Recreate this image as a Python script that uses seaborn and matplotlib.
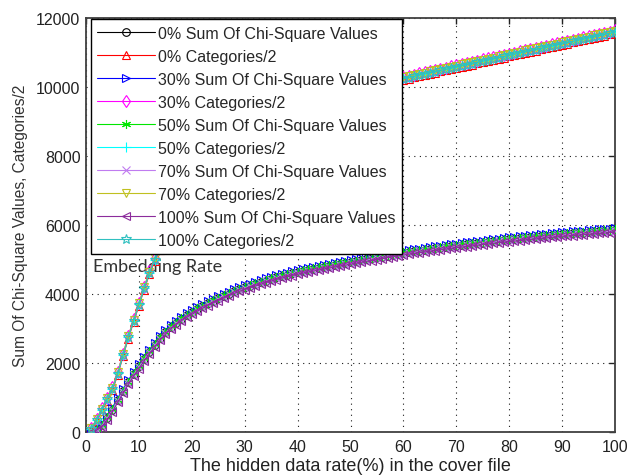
import matplotlib
matplotlib.use("Agg")
import matplotlib.pyplot as plt
import seaborn as sns

# ---------------- data ----------------
hidden_rate = list(range(1, 101))

sum_0 = [20, 80, 200, 420, 650, 920, 1180, 1440, 1680, 1900,
         2120, 2330, 2530, 2720, 2890, 3040, 3170, 3280, 3380, 3470,
         3560, 3645, 3725, 3800, 3870, 3940, 4010, 4075, 4135, 4190,
         4240, 4290, 4340, 4390, 4435, 4480, 4520, 4560, 4595, 4630,
         4662, 4694, 4725, 4755, 4785, 4815, 4842, 4869, 4895, 4920,
         4948, 4976, 5004, 5031, 5058, 5085, 5112, 5138, 5164, 5190,
         5212, 5234, 5256, 5277, 5298, 5319, 5340, 5360, 5380, 5400,
         5418, 5436, 5454, 5472, 5490, 5508, 5526, 5544, 5562, 5580,
         5595, 5610, 5625, 5640, 5655, 5670, 5685, 5700, 5715, 5730,
         5742, 5754, 5766, 5778, 5790, 5802, 5814, 5826, 5838, 5850]

sum_30 = [30, 100, 240, 470, 710, 980, 1240, 1500, 1740, 1960,
          2180, 2390, 2590, 2780, 2950, 3100, 3230, 3340, 3440, 3530,
          3620, 3705, 3785, 3860, 3930, 4000, 4070, 4135, 4195, 4250,
          4300, 4350, 4400, 4450, 4495, 4540, 4580, 4620, 4655, 4690,
          4722, 4754, 4785, 4815, 4845, 4875, 4902, 4929, 4955, 4980,
          5008, 5036, 5064, 5091, 5118, 5145, 5172, 5198, 5224, 5250,
          5272, 5294, 5316, 5337, 5358, 5379, 5400, 5420, 5440, 5460,
          5478, 5496, 5514, 5532, 5550, 5568, 5586, 5604, 5622, 5640,
          5655, 5670, 5685, 5700, 5715, 5730, 5745, 5760, 5775, 5790,
          5802, 5814, 5826, 5838, 5850, 5862, 5874, 5886, 5898, 5910]

sum_50 = [20, 85, 210, 435, 670, 940, 1200, 1460, 1700, 1920,
          2140, 2350, 2550, 2740, 2910, 3060, 3190, 3300, 3400, 3490,
          3580, 3665, 3745, 3820, 3890, 3960, 4030, 4095, 4155, 4210,
          4260, 4310, 4360, 4410, 4455, 4500, 4540, 4580, 4615, 4650,
          4682, 4714, 4745, 4775, 4805, 4835, 4862, 4889, 4915, 4940,
          4968, 4996, 5024, 5051, 5078, 5105, 5132, 5158, 5184, 5210,
          5232, 5254, 5276, 5297, 5318, 5339, 5360, 5380, 5400, 5420,
          5438, 5456, 5474, 5492, 5510, 5528, 5546, 5564, 5582, 5600,
          5615, 5630, 5645, 5660, 5675, 5690, 5705, 5720, 5735, 5750,
          5762, 5774, 5786, 5798, 5810, 5822, 5834, 5846, 5858, 5870]

sum_70 = [15, 70, 180, 400, 630, 900, 1160, 1420, 1660, 1880,
          2100, 2310, 2510, 2700, 2870, 3020, 3150, 3260, 3360, 3450,
          3540, 3625, 3705, 3780, 3850, 3920, 3990, 4055, 4115, 4170,
          4220, 4270, 4320, 4370, 4415, 4460, 4500, 4540, 4575, 4610,
          4642, 4674, 4705, 4735, 4765, 4795, 4822, 4849, 4875, 4900,
          4928, 4956, 4984, 5011, 5038, 5065, 5092, 5118, 5144, 5170,
          5192, 5214, 5236, 5257, 5278, 5299, 5320, 5340, 5360, 5380,
          5398, 5416, 5434, 5452, 5470, 5488, 5506, 5524, 5542, 5560,
          5575, 5590, 5605, 5620, 5635, 5650, 5665, 5680, 5695, 5710,
          5722, 5734, 5746, 5758, 5770, 5782, 5794, 5806, 5818, 5830]

sum_100 = [10, 50, 150, 350, 590, 860, 1120, 1380, 1620, 1840,
           2060, 2270, 2470, 2660, 2830, 2980, 3110, 3220, 3320, 3410,
           3500, 3585, 3665, 3740, 3810, 3880, 3950, 4015, 4075, 4130,
           4180, 4230, 4280, 4330, 4375, 4420, 4460, 4500, 4535, 4570,
           4602, 4634, 4665, 4695, 4725, 4755, 4782, 4809, 4835, 4860,
           4888, 4916, 4944, 4971, 4998, 5025, 5052, 5078, 5104, 5130,
           5152, 5174, 5196, 5217, 5238, 5259, 5280, 5300, 5320, 5340,
           5358, 5376, 5394, 5412, 5430, 5448, 5466, 5484, 5502, 5520,
           5535, 5550, 5565, 5580, 5595, 5610, 5625, 5640, 5655, 5670,
           5682, 5694, 5706, 5718, 5730, 5742, 5754, 5766, 5778, 5790]

cat_0 = [70, 310, 610, 910, 1210, 1660, 2190, 2710, 3190, 3660,
         4130, 4580, 4960, 5280, 5560, 5820, 6060, 6280, 6490, 6680,
         6860, 7040, 7210, 7370, 7520, 7660, 7790, 7910, 8020, 8120,
         8225, 8330, 8440, 8540, 8640, 8740, 8840, 8930, 9020, 9110,
         9190, 9270, 9340, 9410, 9480, 9540, 9600, 9660, 9710, 9760,
         9810, 9860, 9910, 9955, 10000, 10045, 10090, 10130, 10170, 10210,
         10245, 10280, 10315, 10350, 10380, 10415, 10450, 10480, 10515, 10550,
         10585, 10615, 10650, 10685, 10720, 10750, 10785, 10820, 10855, 10885,
         10920, 10955, 10990, 11020, 11055, 11090, 11120, 11155, 11190, 11225,
         11255, 11290, 11325, 11355, 11390, 11425, 11460, 11490, 11525, 11560]

cat_30 = [110, 380, 690, 990, 1290, 1740, 2270, 2790, 3270, 3740,
          4210, 4660, 5040, 5360, 5640, 5900, 6140, 6360, 6570, 6760,
          6940, 7120, 7290, 7450, 7600, 7740, 7870, 7990, 8100, 8200,
          8305, 8410, 8520, 8620, 8720, 8820, 8920, 9010, 9100, 9190,
          9270, 9350, 9420, 9490, 9560, 9620, 9680, 9740, 9790, 9840,
          9890, 9940, 9990, 10035, 10080, 10125, 10170, 10210, 10250, 10290,
          10325, 10360, 10395, 10430, 10460, 10495, 10530, 10560, 10595, 10630,
          10665, 10695, 10730, 10765, 10800, 10830, 10865, 10900, 10935, 10965,
          11000, 11035, 11070, 11100, 11135, 11170, 11200, 11235, 11270, 11305,
          11335, 11370, 11405, 11435, 11470, 11505, 11540, 11570, 11605, 11640]

cat_50 = [100, 350, 650, 950, 1250, 1700, 2230, 2750, 3230, 3700,
          4170, 4620, 5000, 5320, 5600, 5860, 6100, 6320, 6530, 6720,
          6900, 7080, 7250, 7410, 7560, 7700, 7830, 7950, 8060, 8160,
          8265, 8370, 8480, 8580, 8680, 8780, 8880, 8970, 9060, 9150,
          9230, 9310, 9380, 9450, 9520, 9580, 9640, 9700, 9750, 9800,
          9850, 9900, 9950, 9995, 10040, 10085, 10130, 10170, 10210, 10250,
          10285, 10320, 10355, 10390, 10420, 10455, 10490, 10520, 10555, 10590,
          10625, 10655, 10690, 10725, 10760, 10790, 10825, 10860, 10895, 10925,
          10960, 10995, 11030, 11060, 11095, 11130, 11160, 11195, 11230, 11265,
          11295, 11330, 11365, 11395, 11430, 11465, 11500, 11530, 11565, 11600]

cat_70 = [110, 370, 675, 980, 1280, 1730, 2260, 2780, 3260, 3730,
          4200, 4650, 5030, 5350, 5630, 5890, 6130, 6350, 6560, 6750,
          6930, 7110, 7280, 7440, 7590, 7730, 7860, 7980, 8090, 8190,
          8295, 8400, 8510, 8610, 8710, 8810, 8910, 9000, 9090, 9180,
          9260, 9340, 9410, 9480, 9550, 9610, 9670, 9730, 9780, 9830,
          9880, 9930, 9980, 10025, 10070, 10115, 10160, 10200, 10240, 10280,
          10315, 10350, 10385, 10420, 10450, 10485, 10520, 10550, 10585, 10620,
          10655, 10685, 10720, 10755, 10790, 10820, 10855, 10890, 10925, 10955,
          10990, 11025, 11060, 11090, 11125, 11160, 11190, 11225, 11260, 11295,
          11325, 11360, 11395, 11425, 11460, 11495, 11530, 11560, 11595, 11630]

cat_100 = [100, 340, 640, 945, 1245, 1690, 2220, 2740, 3220, 3690,
           4160, 4610, 4990, 5310, 5590, 5850, 6090, 6310, 6520, 6710,
           6890, 7070, 7240, 7400, 7550, 7690, 7820, 7940, 8050, 8150,
           8255, 8360, 8470, 8570, 8670, 8770, 8870, 8960, 9050, 9140,
           9220, 9300, 9370, 9440, 9510, 9570, 9630, 9690, 9740, 9790,
           9840, 9890, 9940, 9985, 10030, 10075, 10120, 10160, 10200, 10240,
           10275, 10310, 10345, 10380, 10410, 10445, 10480, 10510, 10545, 10580,
           10615, 10645, 10680, 10715, 10750, 10780, 10815, 10850, 10885, 10915,
           10950, 10985, 11020, 11050, 11085, 11120, 11150, 11185, 11220, 11255,
           11285, 11320, 11355, 11385, 11420, 11455, 11490, 11520, 11555, 11590]

series_labels = ["0% Sum Of Chi-Square Values", "0% Categories/2",
                 "30% Sum Of Chi-Square Values", "30% Categories/2",
                 "50% Sum Of Chi-Square Values", "50% Categories/2",
                 "70% Sum Of Chi-Square Values", "70% Categories/2",
                 "100% Sum Of Chi-Square Values", "100% Categories/2"]
series_values = [sum_0, cat_0, sum_30, cat_30, sum_50, cat_50,
                 sum_70, cat_70, sum_100, cat_100]

x_ticks = [0, 10, 20, 30, 40, 50, 60, 70, 80, 90, 100]
y_ticks = [0, 2000, 4000, 6000, 8000, 10000, 12000]

# ---------------- style ----------------
colors = ["#000000", "#ff0000", "#0000ff", "#ff00ff", "#00e600",
          "#00ffff", "#c07cf0", "#c0c020", "#8c2c9c", "#30c0c0"]
markers = ["o", "^", ">", "d", (6, 2, 0), "+", "x", "v", "<", "*"]
msizes = [5.5, 5.5, 5.5, 6.5, 6.5, 7.5, 5.5, 5.5, 5.5, 7.5]

sns.set_style("white")
plt.rcParams["font.family"] = ["Liberation Sans", "DejaVu Sans"]

fig = plt.figure(figsize=(6.29, 4.77), dpi=100)
ax = fig.add_axes([86 / 629, (477 - 433) / 477, (615 - 86) / 629, (433 - 19) / 477])

for lab, vals, c, m, ms in zip(series_labels, series_values, colors, markers, msizes):
    sns.lineplot(x=hidden_rate, y=vals, ax=ax, color=c, marker=m,
                 markersize=ms, markerfacecolor="none", markeredgecolor=c,
                 markeredgewidth=0.8, linewidth=0.8, label=lab, zorder=3)

ax.set_xlim(0, 100)
ax.set_ylim(0, 12000)
ax.set_xticks(x_ticks)
ax.set_yticks(y_ticks)
ax.set_xticklabels([str(v) for v in x_ticks])
ax.set_yticklabels([str(v) for v in y_ticks])

ax.grid(True, color="black", linestyle=(0, (1, 4)), linewidth=0.8, alpha=0.9)
ax.set_axisbelow(True)
ax.tick_params(direction="in", length=4, width=1.0, top=True, right=True,
               labelsize=11.5, pad=4, colors="#222222")
ax.tick_params(axis="x", pad=5)
for sp in ax.spines.values():
    sp.set_visible(True)
    sp.set_color("#404040")
    sp.set_linewidth(1.3)

ax.set_xlabel("The hidden data rate(%) in the cover file", fontsize=13,
              color="#222222", labelpad=2)
ax.set_ylabel("Sum Of Chi-Square Values, Categories/2", fontsize=11.2,
              color="#333333", labelpad=6)

ax.text(1.3, 4660, "Embedding Rate", fontsize=13, family=["Lato", "DejaVu Sans"],
        color="#333333", va="baseline", ha="left", zorder=2)

leg = ax.legend(loc="upper left", bbox_to_anchor=(0.009, 0.997), borderaxespad=0,
                fontsize=11.5, handlelength=3.6, handletextpad=0.2,
                labelspacing=0.5, borderpad=0.4, frameon=True, fancybox=False,
                framealpha=1.0, edgecolor="black")
leg.get_frame().set_linewidth(1.0)
leg.set_zorder(10)

fig.savefig("out.png", dpi=100, facecolor="white")
